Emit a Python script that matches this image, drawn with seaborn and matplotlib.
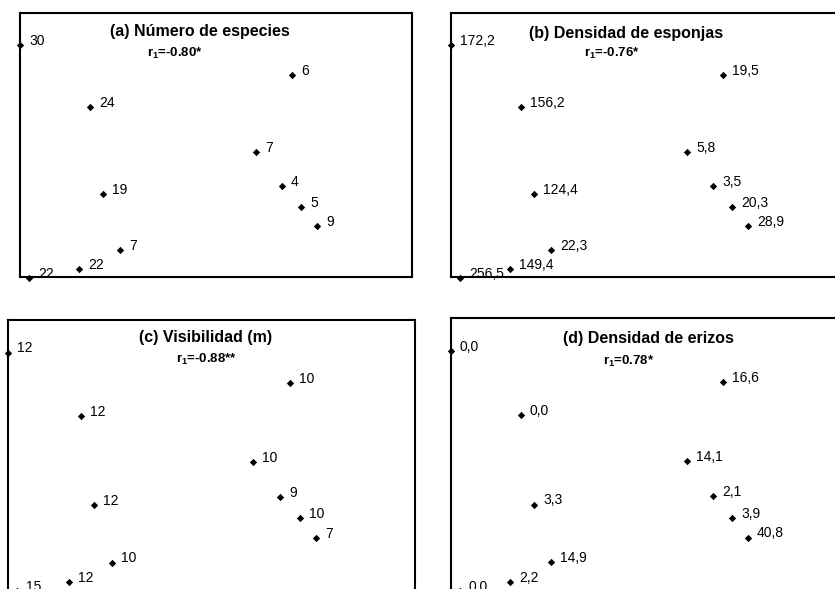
import pandas as pd
import seaborn as sns
import matplotlib.pyplot as plt

# Site scores on the two ordination axes (same for every panel)
axis1 = [0.00, 2.72, 0.70, 2.36, 2.62, 0.83, 2.81, 2.97, 1.00, 0.59, 0.09]
axis2 = [2.32, 2.02, 1.70, 1.25, 0.91, 0.83, 0.70, 0.51, 0.27, 0.08, -0.01]

# Values shown next to each site
especies = ['30', '6', '24', '7', '4', '19', '5', '9', '7', '22', '22']
esponjas = ['172,2', '19,5', '156,2', '5,8', '3,5', '124,4', '20,3', '28,9', '22,3', '149,4', '256,5']
visibilidad = ['12', '10', '12', '10', '9', '12', '10', '7', '10', '12', '15']
erizos = ['0,0', '16,6', '0,0', '14,1', '2,1', '3,3', '3,9', '40,8', '14,9', '2,2', '0,0']

titles = ['(a) Número de especies', '(b) Densidad de esponjas',
          '(c) Visibilidad (m)', '(d) Densidad de erizos']
r1_values = ['-0.80*', '-0.76*', '-0.88**', '0.78*']

sns.set_style('white')
plt.rcParams['font.family'] = ['Liberation Sans', 'DejaVu Sans']
plt.rcParams['text.color'] = 'black'
plt.rcParams['mathtext.fontset'] = 'custom'
plt.rcParams['mathtext.bf'] = 'Liberation Sans:bold'
plt.rcParams['mathtext.rm'] = 'Liberation Sans:bold'

fig = plt.figure(figsize=(8.35, 5.89), dpi=100)

# panel boxes in figure fractions (right and bottom panels run off the page)
boxes = [[0.024, 0.530, 0.4695, 0.448],
         [0.540, 0.530, 0.4695, 0.448],
         [0.0096, -0.002, 0.4874, 0.459],
         [0.540, -0.002, 0.4695, 0.462]]
title_pos = [(0.46, 0.928), (0.446, 0.924), (0.486, 0.933), (0.505, 0.926)]
r1_pos = [(0.395, 0.848), (0.41, 0.848), (0.488, 0.852), (0.454, 0.84)]

panels = [especies, esponjas, visibilidad, erizos]

for i, labels in enumerate(panels):
    ax = fig.add_axes(boxes[i])
    df = pd.DataFrame({'x': axis1, 'y': axis2, 'label': labels})
    sns.scatterplot(data=df, x='x', y='y', marker='D', s=14, color='black',
                    linewidth=0, ax=ax, clip_on=False, zorder=3)
    for _, row in df.iterrows():
        ax.annotate(row['label'], (row['x'], row['y']), xytext=(6.5, 3),
                    textcoords='offset points', va='center', ha='left',
                    fontsize=10, color='black', annotation_clip=False)
    ax.set_xlim(0, 3.92)
    ax.set_ylim(0, 2.64)
    ax.set_xticks([])
    ax.set_yticks([])
    ax.set_xlabel('')
    ax.set_ylabel('')
    for sp in ax.spines.values():
        sp.set_visible(True)
        sp.set_color('black')
        sp.set_linewidth(1.5)
    ax.text(title_pos[i][0], title_pos[i][1], titles[i], transform=ax.transAxes,
            ha='center', va='center', fontsize=11.5, fontweight='bold')
    ax.text(r1_pos[i][0], r1_pos[i][1], r'$\mathbf{r_1}$=' + r1_values[i],
            transform=ax.transAxes, ha='center', va='center',
            fontsize=9.5, fontweight='bold')

fig.savefig('out.png', dpi=100)
